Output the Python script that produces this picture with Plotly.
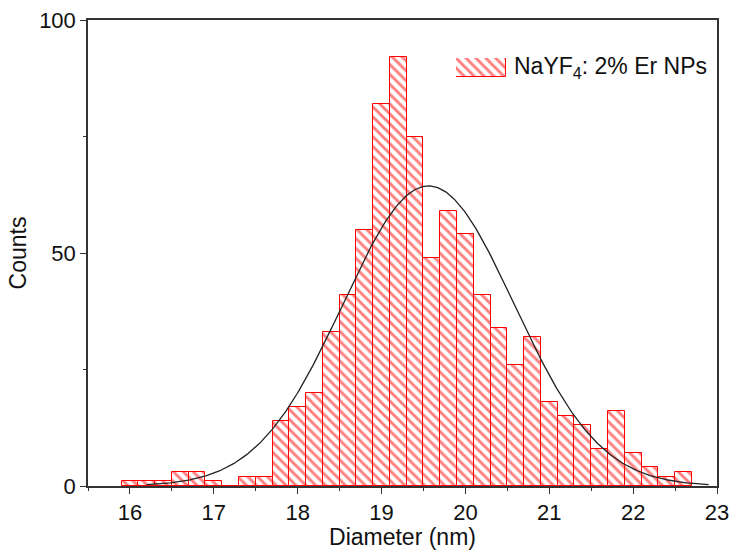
import numpy as np
import plotly.graph_objects as go

# Histogram of particle diameters (bin centres, nm) and counts per 0.2 nm bin
diameter_bins = [16.0, 16.2, 16.4, 16.6, 16.8, 17.0, 17.2, 17.4, 17.6, 17.8,
                 18.0, 18.2, 18.4, 18.6, 18.8, 19.0, 19.2, 19.4, 19.6, 19.8,
                 20.0, 20.2, 20.4, 20.6, 20.8, 21.0, 21.2, 21.4, 21.6, 21.8,
                 22.0, 22.2, 22.4, 22.6]
counts = [1, 1, 1, 3, 3, 1, 0, 2, 2, 14,
          17, 20, 33, 41, 55, 82, 92, 75, 49, 59,
          54, 41, 34, 26, 32, 18, 15, 13, 8, 16,
          7, 4, 2, 3]
bin_width = 0.2

# Gaussian fit parameters
fit_amplitude = 64.4
fit_center = 19.56
fit_sigma = 1.02
fit_start, fit_end = 16.2, 22.9

x_ticks = [16, 17, 18, 19, 20, 21, 22, 23]
y_ticks = [0, 50, 100]
series_name = "NaYF<sub>4</sub>: 2% Er NPs"

RED = "#ff0000"
FONT = "Arial, Liberation Sans, sans-serif"

hatch = dict(shape="\\", fgcolor=RED, bgcolor="white", size=7, solidity=0.42)

fit_x = np.linspace(fit_start, fit_end, 400)
fit_y = fit_amplitude * np.exp(-0.5 * ((fit_x - fit_center) / fit_sigma) ** 2)

fig = go.Figure()
fig.add_trace(go.Bar(
    x=diameter_bins, y=counts, width=bin_width,
    marker=dict(color="white", pattern=hatch, line=dict(color=RED, width=1)),
    showlegend=False, name=series_name,
))
fig.add_trace(go.Scatter(
    x=fit_x, y=fit_y, mode="lines",
    line=dict(color="#222222", width=1.3), showlegend=False,
))

# Legend swatch drawn as a hatched box on a small overlay axis
fig.add_trace(go.Bar(
    x=[0.5], y=[1], width=1, xaxis="x2", yaxis="y2",
    marker=dict(color="white", pattern=hatch, line=dict(color=RED, width=1)),
    showlegend=False, hoverinfo="skip",
))

axis_common = dict(
    showline=True, linecolor="#333333", linewidth=1.5, mirror=True,
    ticks="outside", tickcolor="#333333", tickwidth=1.3,
    showgrid=False, zeroline=False, automargin=False,
    tickfont=dict(family=FONT, size=22, color="#111111"),
)

fig.update_layout(
    width=734, height=550,
    margin=dict(l=88, r=17, t=20, b=64),
    paper_bgcolor="white", plot_bgcolor="white",
    bargap=0,
    font=dict(family=FONT, color="#111111"),
    xaxis=dict(
        range=[15.5, 23], tickvals=x_ticks, ticklen=6,
        minor=dict(dtick=0.5, tick0=15.5, ticks="outside", ticklen=3,
                   tickcolor="#333333", tickwidth=1.2),
        title=dict(text="Diameter (nm)", font=dict(family=FONT, size=23),
                   standoff=8),
        **axis_common,
    ),
    yaxis=dict(
        range=[0, 100], tickvals=y_ticks, ticklen=6,
        minor=dict(dtick=25, ticks="outside", ticklen=3,
                   tickcolor="#333333", tickwidth=1.2),
        title=dict(text="Counts", font=dict(family=FONT, size=23), standoff=6),
        **axis_common,
    ),
    xaxis2=dict(domain=[0.585, 0.6645], range=[0, 1], visible=False,
                anchor="y2", fixedrange=True),
    yaxis2=dict(domain=[0.8777, 0.9185], range=[0, 1], visible=False,
                anchor="x2", fixedrange=True),
    annotations=[dict(
        text=series_name, xref="paper", yref="paper",
        x=0.674, y=0.897, xanchor="left", yanchor="middle", showarrow=False,
        font=dict(family=FONT, size=23, color="#111111"),
    )],
)

fig.write_html("out.html")
